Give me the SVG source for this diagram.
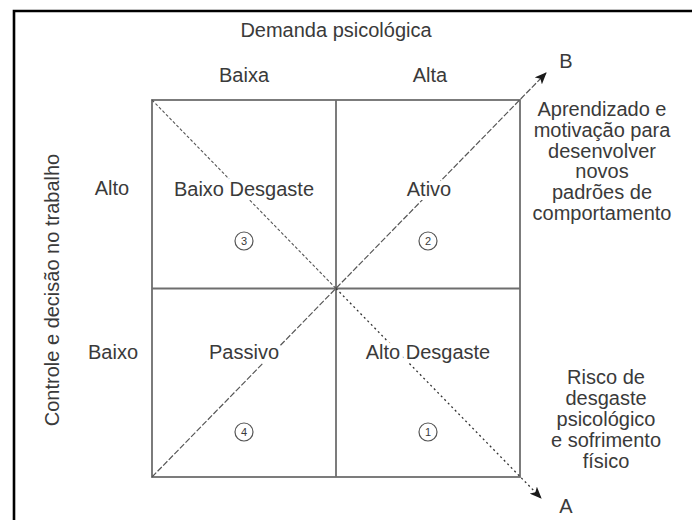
<svg xmlns="http://www.w3.org/2000/svg" width="692" height="520" viewBox="0 0 692 520">
  <defs>
    <marker id="arrowhead" viewBox="0 0 12 10" refX="11" refY="5" markerWidth="12" markerHeight="10" markerUnits="userSpaceOnUse" orient="auto">
      <path d="M0,0 L12,5 L0,10 L3,5 Z" fill="#1a1a1a"/>
    </marker>
    <style>
      text { font-family: "Liberation Sans", Arial, Helvetica, sans-serif; font-size: 20px; fill: #3a3a3a; text-anchor: middle; }
      .frame { stroke: #000; stroke-width: 2.6; fill: none; }
      .grid { stroke: #6e6e6e; stroke-width: 1.8; fill: none; }
      .diag-fine { stroke: #555; stroke-width: 1.1; stroke-dasharray: 3 2; fill: none; }
      .diag-dot { stroke: #333; stroke-width: 1.3; stroke-dasharray: 2 3; fill: none; }
      .diag-dash { stroke: #555; stroke-width: 1.2; stroke-dasharray: 6 2; fill: none; }
      .halo { stroke: #fff; stroke-width: 8; stroke-linejoin: round; paint-order: stroke; }
      .badge { fill: #fff; stroke: #555; stroke-width: 1.2; }
      .num { font-size: 11px; }
    </style>
  </defs>

  <rect width="692" height="520" fill="#fff"/>

  <!-- outer frame (runs off the right and bottom edges) -->
  <path class="frame" d="M14,520 L14,11 L692,11"/>

  <!-- axis titles and level labels -->
  <g id="axis-demanda">
    <text x="336" y="37">Demanda psicológica</text>
    <text x="244" y="82">Baixa</text>
    <text x="430" y="82">Alta</text>
  </g>
  <g id="axis-controle">
    <text transform="translate(59,290) rotate(-90)">Controle e decisão no trabalho</text>
    <text x="112" y="195">Alto</text>
    <text x="113" y="359">Baixo</text>
  </g>

  <!-- 2x2 grid -->
  <g id="grid">
    <rect class="grid" x="152" y="100" width="368" height="377"/>
    <line class="grid" x1="336" y1="100" x2="336" y2="477"/>
    <line class="grid" x1="152" y1="288.5" x2="520" y2="288.5"/>
  </g>

  <!-- diagonal connectors -->
  <g id="connectors">
    <line class="diag-fine" x1="152" y1="100" x2="336" y2="288.5"/>
    <line class="diag-dot" x1="336" y1="288.5" x2="541" y2="498" marker-end="url(#arrowhead)"/>
    <line class="diag-dash" x1="152" y1="477" x2="546" y2="73" marker-end="url(#arrowhead)"/>
  </g>

  <!-- quadrants -->
  <g id="q3-baixo-desgaste">
    <text class="halo" x="244" y="196">Baixo Desgaste</text>
    <circle class="badge" cx="244" cy="241" r="9"/>
    <text class="num" x="244" y="245">3</text>
  </g>
  <g id="q2-ativo">
    <text class="halo" x="429" y="196">Ativo</text>
    <circle class="badge" cx="428" cy="241" r="9"/>
    <text class="num" x="428" y="245">2</text>
  </g>
  <g id="q4-passivo">
    <text class="halo" x="244" y="359">Passivo</text>
    <circle class="badge" cx="244" cy="432" r="9"/>
    <text class="num" x="244" y="436">4</text>
  </g>
  <g id="q1-alto-desgaste">
    <text class="halo" x="428" y="359">Alto Desgaste</text>
    <circle class="badge" cx="428" cy="432" r="9"/>
    <text class="num" x="428" y="436">1</text>
  </g>

  <!-- endpoints of the diagonals -->
  <g id="end-b">
    <text x="566" y="68">B</text>
    <text x="602" y="116">Aprendizado e</text>
    <text x="602" y="137">motivação para</text>
    <text x="602" y="158">desenvolver</text>
    <text x="602" y="178">novos</text>
    <text x="602" y="199">padrões de</text>
    <text x="602" y="220">comportamento</text>
  </g>
  <g id="end-a">
    <text x="606" y="384">Risco de</text>
    <text x="606" y="405">desgaste</text>
    <text x="606" y="426">psicológico</text>
    <text x="606" y="447">e sofrimento</text>
    <text x="606" y="468">físico</text>
    <text x="566" y="513">A</text>
  </g>
</svg>
